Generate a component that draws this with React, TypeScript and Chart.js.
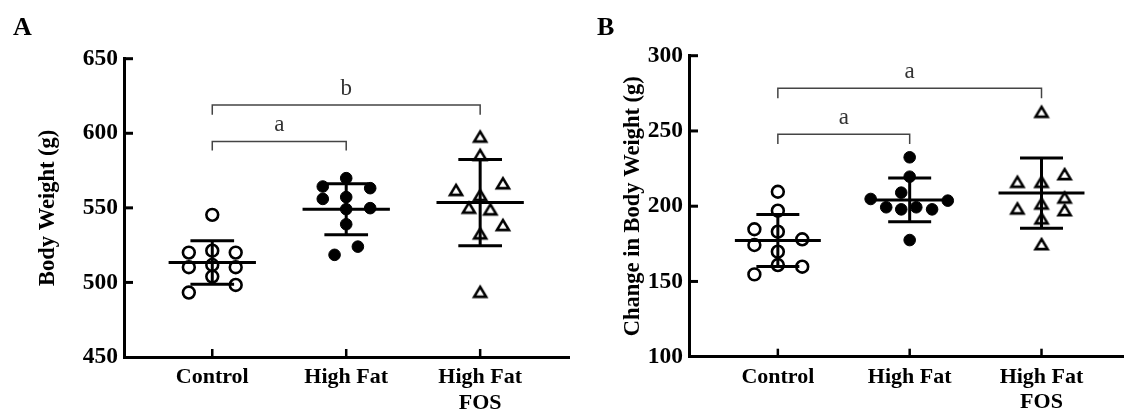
import React, { useEffect, useRef } from "react";
import { Chart, registerables } from "chart.js";

Chart.register(...registerables);

const FONT = "'Liberation Serif', 'Times New Roman', serif";

// Category labels (x axis)
const categories: (string | string[])[] = ["Control", "High Fat", ["High Fat", "FOS"]];

// Panel A: Body Weight (g)
const bwControl = [545.3, 520.0, 521.3, 520.0, 510.2, 511.7, 510.2, 503.9, 498.3, 493.2];
const bwControlJitter = [0, -0.175, 0, 0.175, -0.175, 0, 0.175, 0, 0.175, -0.175];
const bwHighFat = [569.9, 564.3, 563.2, 556.0, 557.2, 549.8, 549.1, 539.0, 524.0, 518.5];
const bwHighFatJitter = [0, -0.175, 0.179, -0.175, 0, 0.179, 0, 0, 0.087, -0.087];
const bwFOS = [597.9, 585.6, 566.6, 562.1, 558.7, 550.2, 549.1, 538.6, 533.0, 493.8];
const bwFOSJitter = [0, 0, 0.17, -0.18, 0, -0.084, 0.076, 0.17, 0, 0];
const bwTicks = [450, 500, 550, 600, 650];
const bwBrackets = [
  { from: 0, to: 1, y: 594.5, leg: 588.5, label: "a" },
  { from: 0, to: 2, y: 619.0, leg: 612.4, label: "b" },
];

// Panel B: Change in Body Weight (g)
const cbwControl = [209.6, 197.0, 184.7, 183.1, 174.2, 178.0, 169.8, 160.9, 159.8, 154.7];
const cbwControlJitter = [0, 0, -0.178, 0, -0.178, 0.185, 0, 0, 0.185, -0.178];
const cbwHighFat = [232.5, 219.6, 209.0, 204.8, 203.7, 199.3, 197.9, 199.3, 197.9, 177.5];
const cbwHighFatJitter = [0, 0, -0.064, -0.296, 0.289, -0.178, -0.064, 0.05, 0.17, 0];
const cbwFOS = [262.8, 221.4, 216.3, 216.3, 205.9, 201.9, 198.6, 197.5, 192.0, 174.9];
const cbwFOSJitter = [0, 0.175, -0.183, 0, 0.175, 0, -0.183, 0.175, 0, 0];
const cbwTicks = [100, 150, 200, 250, 300];
const cbwBrackets = [
  { from: 0, to: 1, y: 247.8, leg: 241.3, label: "a" },
  { from: 0, to: 2, y: 278.3, leg: 271.7, label: "a" },
];

function makeTriangle(): HTMLCanvasElement {
  const c = document.createElement("canvas");
  c.width = 18;
  c.height = 16;
  const g = c.getContext("2d")!;
  g.beginPath();
  g.moveTo(9, 3.2);
  g.lineTo(15, 13.1);
  g.lineTo(3, 13.1);
  g.closePath();
  g.fillStyle = "#fff";
  g.fill();
  g.lineWidth = 2.6;
  g.lineJoin = "miter";
  g.strokeStyle = "#000";
  g.stroke();
  return c;
}

function meanSd(arr: number[]): [number, number] {
  const m = arr.reduce((a, b) => a + b, 0) / arr.length;
  const v = arr.reduce((a, b) => a + (b - m) * (b - m), 0) / (arr.length - 1);
  return [m, Math.sqrt(v)];
}

type PanelProps = {
  letter: string;
  letterX: number;
  groups: { values: number[]; jitter: number[] }[];
  ticks: number[];
  brackets: { from: number; to: number; y: number; leg: number; label: string }[];
  title: string;
  titlePad: number;
  xMin: number;
  xMax: number;
  padTop: number;
  padRight: number;
  xHeight: number;
  width: number;
  left: number;
};

function Panel(p: PanelProps) {
  const ref = useRef<HTMLCanvasElement | null>(null);
  useEffect(() => {
    if (!ref.current) return;
    const tri = makeTriangle();
    const styles = [
      { pointStyle: "circle" as any, backgroundColor: "#fff", borderColor: "#000", pointRadius: 5.9, borderWidth: 2.6 },
      { pointStyle: "circle" as any, backgroundColor: "#000", borderColor: "#000", pointRadius: 5.8, borderWidth: 1 },
      { pointStyle: tri as any, backgroundColor: "#fff", borderColor: "#000", pointRadius: 8, borderWidth: 2.5 },
    ];
    const datasets = p.groups.map((g, i) => ({
      data: g.values.map((v, k) => ({ x: i + g.jitter[k], y: v })),
      ...styles[i],
      pointHoverRadius: styles[i].pointRadius,
      showLine: false,
    }));

    const overlay = {
      id: "overlay",
      afterDatasetsDraw(chart: any) {
        const ctx: CanvasRenderingContext2D = chart.ctx;
        const xs = chart.scales.x;
        const ys = chart.scales.y;
        ctx.save();
        ctx.strokeStyle = "#000";
        ctx.lineCap = "butt";
        // inward y ticks
        ctx.lineWidth = 3;
        p.ticks.forEach((t) => {
          const py = ys.getPixelForValue(t);
          if (t === p.ticks[0]) return;
          ctx.beginPath();
          ctx.moveTo(xs.left, py);
          ctx.lineTo(xs.left + 9, py);
          ctx.stroke();
        });
        // inward x ticks
        ctx.lineWidth = 2.5;
        p.groups.forEach((_, i) => {
          const px = xs.getPixelForValue(i);
          ctx.beginPath();
          ctx.moveTo(px, ys.bottom);
          ctx.lineTo(px, ys.bottom - 8);
          ctx.stroke();
        });
        // mean and SD
        ctx.lineWidth = 3;
        p.groups.forEach((g, i) => {
          const [m, sd] = meanSd(g.values);
          const pm = ys.getPixelForValue(m);
          const pu = ys.getPixelForValue(m + sd);
          const pl = ys.getPixelForValue(m - sd);
          const px = xs.getPixelForValue(i);
          ctx.beginPath();
          ctx.moveTo(xs.getPixelForValue(i - 0.326), pm);
          ctx.lineTo(xs.getPixelForValue(i + 0.326), pm);
          ctx.moveTo(px, pu);
          ctx.lineTo(px, pl);
          ctx.moveTo(xs.getPixelForValue(i - 0.163), pu);
          ctx.lineTo(xs.getPixelForValue(i + 0.163), pu);
          ctx.moveTo(xs.getPixelForValue(i - 0.163), pl);
          ctx.lineTo(xs.getPixelForValue(i + 0.163), pl);
          ctx.stroke();
        });
        // significance brackets
        ctx.strokeStyle = "#444";
        ctx.lineWidth = 1.5;
        ctx.fillStyle = "#333";
        ctx.font = `23px ${FONT}`;
        ctx.textAlign = "center";
        ctx.textBaseline = "alphabetic";
        p.brackets.forEach((b) => {
          const x1 = xs.getPixelForValue(b.from);
          const x2 = xs.getPixelForValue(b.to);
          const py = ys.getPixelForValue(b.y);
          const pleg = ys.getPixelForValue(b.leg);
          ctx.beginPath();
          ctx.moveTo(x1, pleg);
          ctx.lineTo(x1, py);
          ctx.lineTo(x2, py);
          ctx.lineTo(x2, pleg);
          ctx.stroke();
          ctx.fillText(b.label, (x1 + x2) / 2, py - 10);
        });
        // panel letter
        ctx.fillStyle = "#000";
        ctx.font = `bold 26px ${FONT}`;
        ctx.textAlign = "left";
        ctx.fillText(p.letter, p.letterX, 35);
        ctx.restore();
      },
    };

    const chart = new Chart(ref.current, {
      type: "scatter",
      data: { datasets: datasets as any },
      options: {
        animation: false,
        responsive: false,
        maintainAspectRatio: false,
        layout: { padding: { left: 0, right: p.padRight, top: p.padTop, bottom: 0 } },
        plugins: { legend: { display: false }, tooltip: { enabled: false } },
        scales: {
          x: {
            type: "linear",
            min: p.xMin,
            max: p.xMax,
            afterBuildTicks: (s: any) => {
              s.ticks = p.groups.map((_, i) => ({ value: i }));
            },
            afterFit: (s: any) => {
              s.height = p.xHeight;
            },
            grid: { drawOnChartArea: false, drawTicks: false },
            border: { display: true, width: 3, color: "#000" },
            ticks: {
              padding: 8,
              color: "#000",
              autoSkip: false,
              maxRotation: 0,
              font: { family: FONT, size: 22, weight: "bold", lineHeight: 1.15 },
              callback: (v: any) => categories[Math.round(Number(v))] as any,
            },
          },
          y: {
            type: "linear",
            min: p.ticks[0],
            max: p.ticks[p.ticks.length - 1],
            afterBuildTicks: (s: any) => {
              s.ticks = p.ticks.map((v) => ({ value: v }));
            },
            afterFit: (s: any) => {
              s.width = 124;
            },
            grid: { drawOnChartArea: false, drawTicks: false },
            border: { display: true, width: 3, color: "#000" },
            ticks: {
              padding: 6,
              color: "#000",
              font: { family: FONT, size: 23.5, weight: "bold" },
            },
            title: {
              display: true,
              text: p.title,
              color: "#000",
              padding: { top: p.titlePad, bottom: 0 },
              font: { family: FONT, size: 22.5, weight: "bold", lineHeight: 1.2 },
            },
          },
        },
      },
      plugins: [overlay],
    });
    return () => chart.destroy();
  }, []);
  return (
    <canvas
      ref={ref}
      width={p.width}
      height={410}
      style={{ position: "absolute", left: p.left, top: 0, width: p.width, height: 410 }}
    />
  );
}

export default function App() {
  return (
    <div
      style={{
        position: "fixed",
        left: 0,
        top: 0,
        width: 1134,
        height: 410,
        overflow: "hidden",
        background: "#fff",
      }}
    >
      <Panel
        letter="A"
        letterX={13}
        groups={[
          { values: bwControl, jitter: bwControlJitter },
          { values: bwHighFat, jitter: bwHighFatJitter },
          { values: bwFOS, jitter: bwFOSJitter },
        ]}
        ticks={bwTicks}
        brackets={bwBrackets}
        title="Body Weight (g)"
        titlePad={35}
        xMin={-0.659}
        xMax={2.667}
        padTop={58.7}
        padRight={7}
        xHeight={53}
        width={580}
        left={0}
      />
      <Panel
        letter="B"
        letterX={32}
        groups={[
          { values: cbwControl, jitter: cbwControlJitter },
          { values: cbwHighFat, jitter: cbwHighFatJitter },
          { values: cbwFOS, jitter: cbwFOSJitter },
        ]}
        ticks={cbwTicks}
        brackets={cbwBrackets}
        title="Change in Body Weight (g)"
        titlePad={55}
        xMin={-0.674}
        xMax={2.622}
        padTop={55.7}
        padRight={0}
        xHeight={53.3}
        width={569}
        left={565}
      />
    </div>
  );
}
